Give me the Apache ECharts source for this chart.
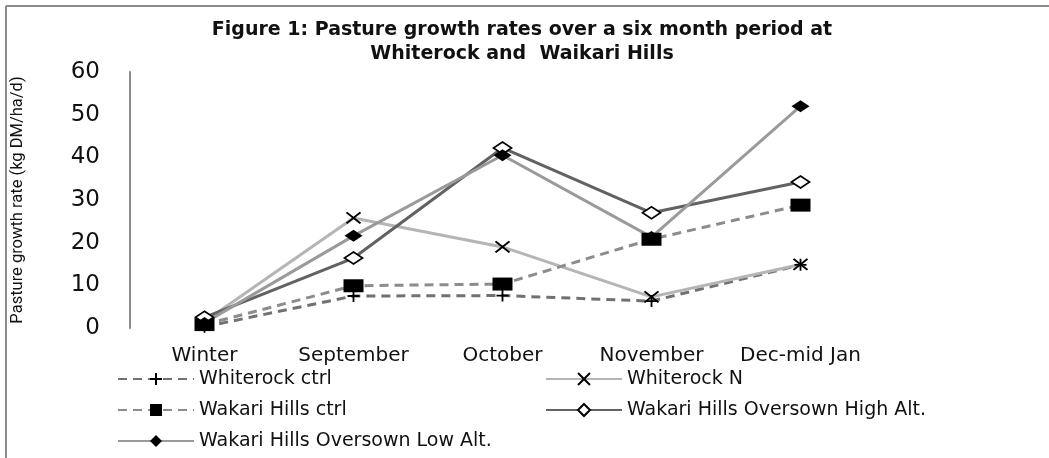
<!DOCTYPE html>
<html>
<head>
<meta charset="utf-8">
<script src="https://cdn.jsdelivr.net/npm/echarts@6/dist/echarts.min.js"></script>
<style>
  html, body { margin: 0; padding: 0; background: #fff; }
  #chart { width: 1049px; height: 458px; }
</style>
</head>
<body>
<div id="chart"></div>
<script>
// data
var months = ['Winter', 'September', 'October', 'November', 'Dec-mid Jan'];
var whiterockCtrl = [0.3, 7.5, 7.6, 6.3, 14.8];
var whiterockN = [1.5, 25.8, 19.0, 7.3, 14.9];
var wakariCtrl = [0.8, 9.9, 10.3, 20.8, 28.8];
var wakariHigh = [2.5, 16.4, 42.2, 27.0, 34.2];
var wakariLow = [1.2, 21.6, 40.5, 21.3, 52.0];
var yTicks = [0, 10, 20, 30, 40, 50, 60];

var plusPath = 'path://M5,0L5,10M0,5L10,5';
var crossPath = 'path://M0,0L10,10M10,0L0,10';

var myChart = echarts.init(document.getElementById('chart'));

function mk(name, data, color, dashed, symbol, size, fill, border) {
    return {
        name: name,
        type: 'line',
        data: data,
        symbol: symbol,
        symbolSize: size,
        showAllSymbol: true,
        z: 3,
        lineStyle: { color: color, width: 3, type: dashed ? [9, 6] : 'solid' },
        itemStyle: { color: fill, borderColor: border, borderWidth: border ? 1.8 : 0 },
        emphasis: { disabled: true }
    };
}

var series = [
    mk('Whiterock ctrl', whiterockCtrl, '#717171', true, plusPath, [12, 12], '#000', '#000'),
    mk('Whiterock N', whiterockN, '#b5b5b5', false, crossPath, [14, 11], '#000', '#000'),
    mk('Wakari Hills ctrl', wakariCtrl, '#8c8c8c', true, 'rect', [20, 13], '#000', null),
    mk('Wakari Hills Oversown High Alt.', wakariHigh, '#626262', false, 'diamond', [18, 12], '#fff', '#000'),
    mk('Wakari Hills Oversown Low Alt.', wakariLow, '#9a9a9a', false, 'diamond', [18, 12], '#000', null)
];

var legendText = { fontFamily: 'DejaVu Sans', fontSize: 19, lineHeight: 20, color: '#111' };

myChart.setOption({
    backgroundColor: '#fff',
    animation: false,
    title: {
        text: 'Figure 1: Pasture growth rates over a six month period at\nWhiterock and  Waikari Hills',
        left: 517,
        top: 13,
        textAlign: 'center',
        textStyle: { fontFamily: 'DejaVu Sans', fontWeight: 'bold', fontSize: 19, lineHeight: 24, color: '#111' }
    },
    legend: [
        {
            data: ['Whiterock ctrl', 'Wakari Hills ctrl', 'Wakari Hills Oversown Low Alt.'],
            orient: 'vertical', left: 112, top: 364,
            itemWidth: 76, itemHeight: 15, itemGap: 11,
            textStyle: legendText
        },
        {
            data: ['Whiterock N', 'Wakari Hills Oversown High Alt.'],
            orient: 'vertical', left: 540, top: 364,
            itemWidth: 76, itemHeight: 15, itemGap: 11,
            textStyle: legendText
        }
    ],
    grid: { left: 130, right: 174, top: 72, bottom: 130 },
    xAxis: {
        type: 'category',
        data: months,
        boundaryGap: true,
        axisLine: { show: false },
        axisTick: { show: false },
        axisLabel: { interval: 0, hideOverlap: false, fontFamily: 'DejaVu Sans', fontSize: 20, color: '#111', margin: 18 }
    },
    yAxis: {
        type: 'value',
        min: yTicks[0],
        max: yTicks[yTicks.length - 1],
        interval: 10,
        name: 'Pasture growth rate (kg DM/ha/d)',
        nameLocation: 'middle',
        nameGap: 104,
        nameTextStyle: { fontFamily: 'Roboto', fontSize: 16.5, color: '#111' },
        splitLine: { show: false },
        axisTick: { show: false },
        axisLine: { show: true, lineStyle: { color: '#8a8a8a', width: 2 } },
        axisLabel: { fontFamily: 'DejaVu Sans', fontSize: 23, color: '#111', margin: 30 }
    },
    graphic: [
        { type: 'line', shape: { x1: 6, y1: 6, x2: 1049, y2: 6 }, style: { stroke: '#8a8a8a', lineWidth: 2 } },
        { type: 'line', shape: { x1: 6, y1: 6, x2: 6, y2: 458 }, style: { stroke: '#8a8a8a', lineWidth: 2 } }
    ],
    series: series
});
</script>
</body>
</html>
